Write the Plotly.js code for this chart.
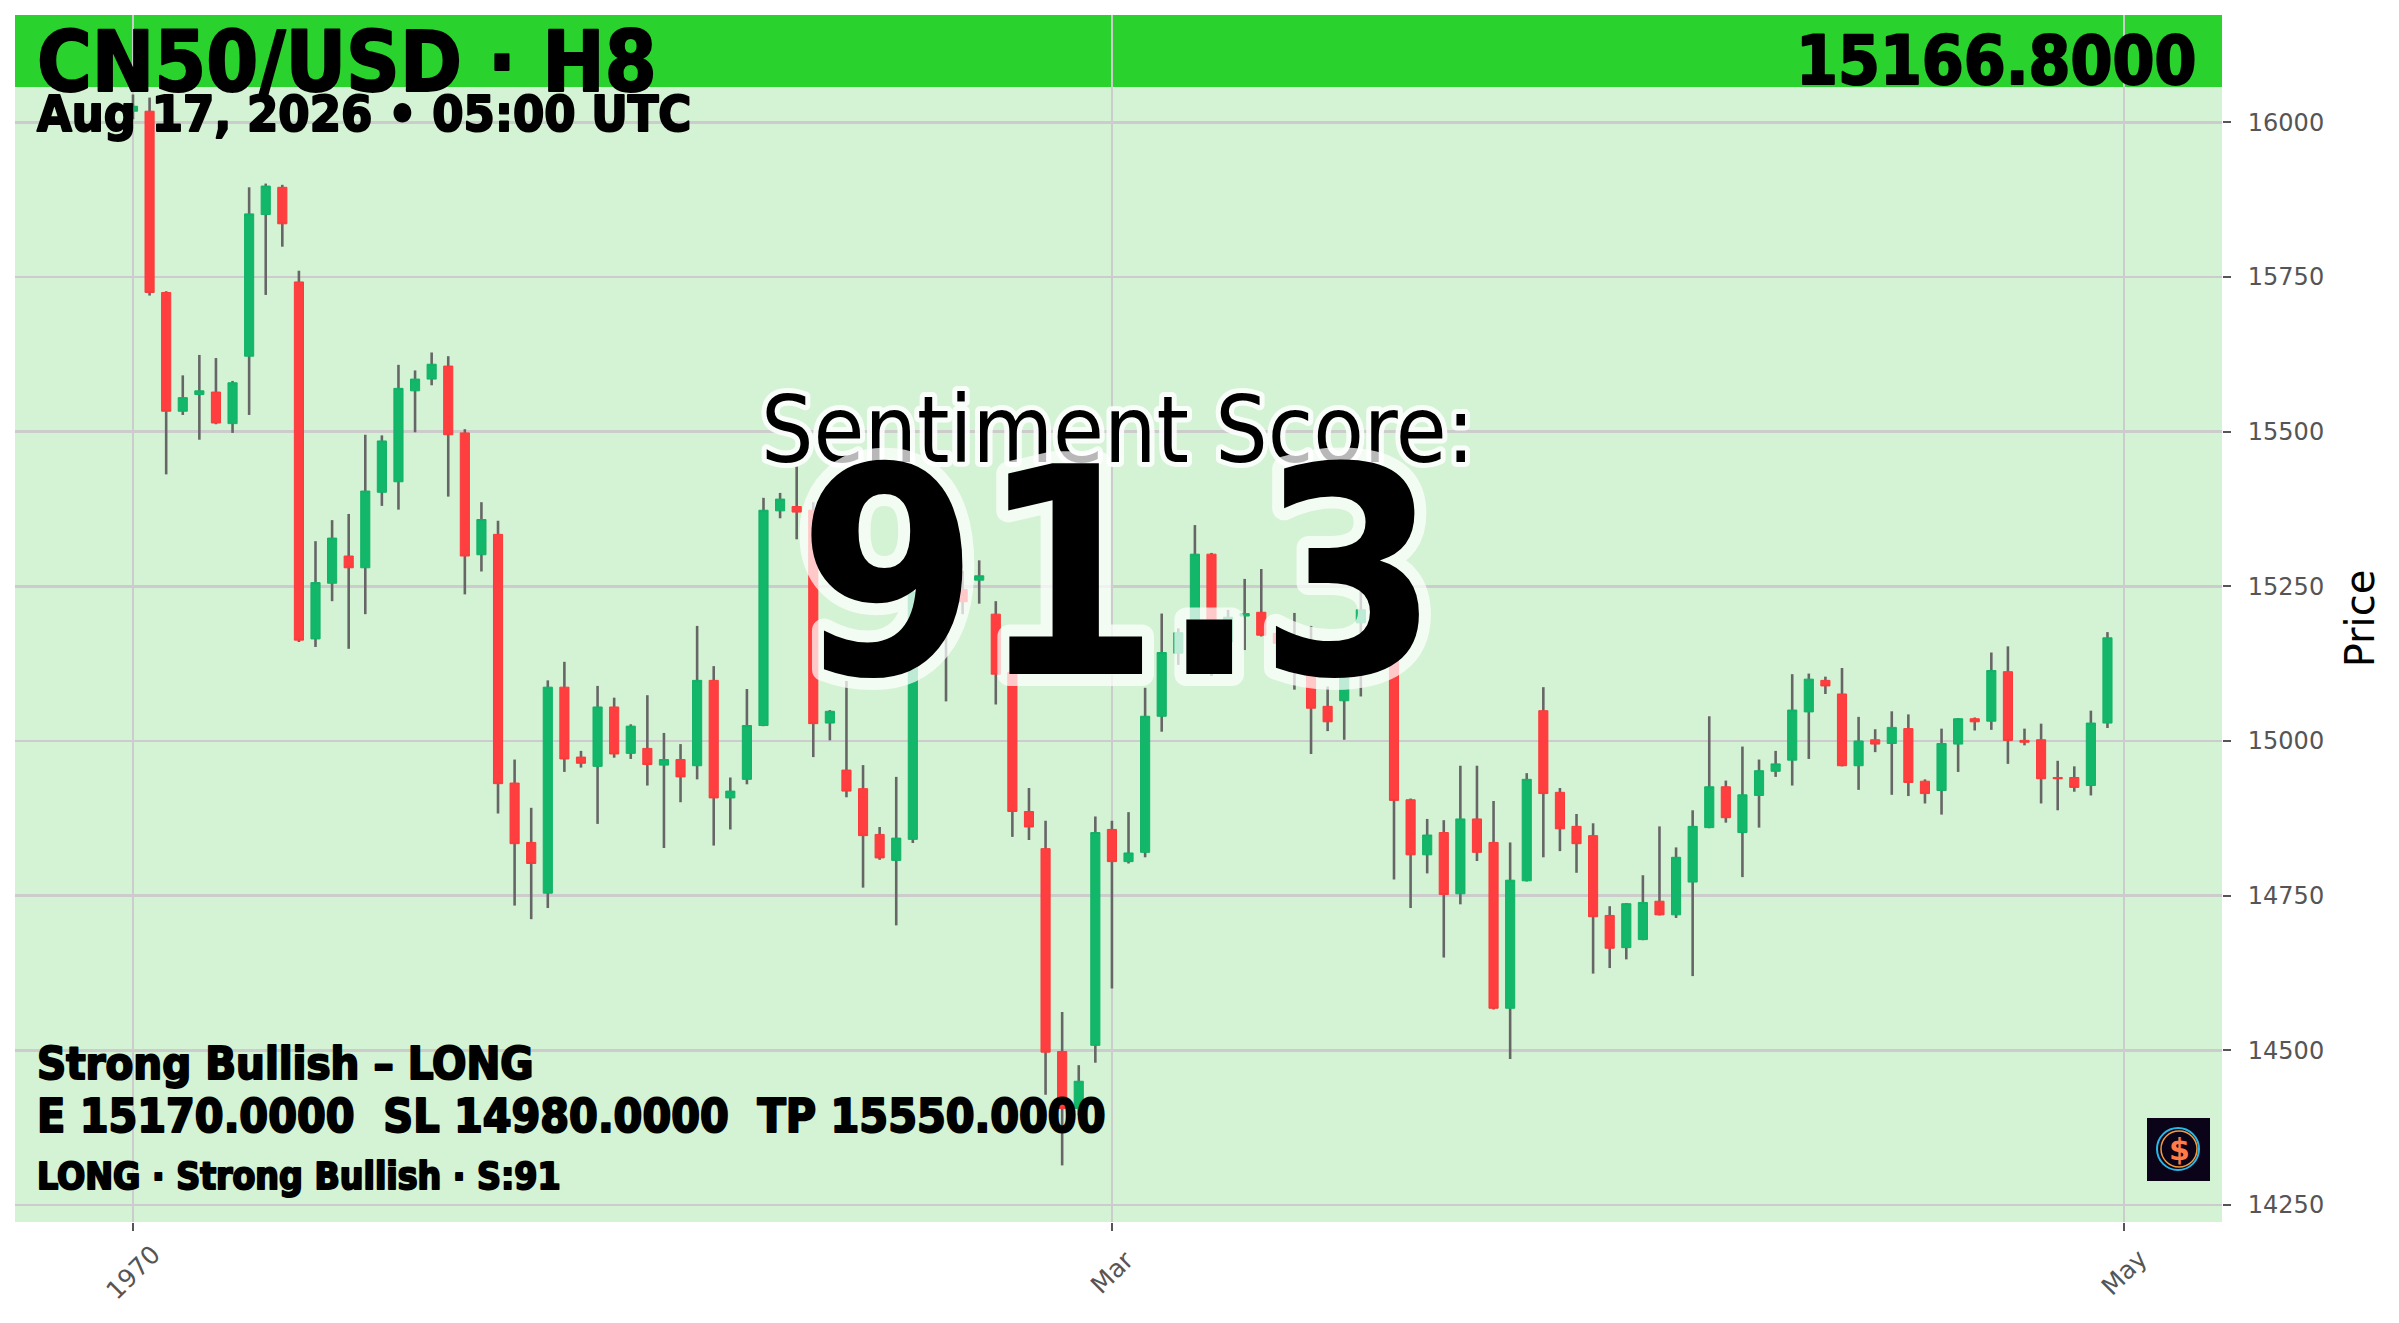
<!DOCTYPE html>
<html>
<head>
<meta charset="utf-8">
<script src="https://cdn.plot.ly/plotly-3.0.1.min.js"></script>
<style>
  html, body { margin:0; padding:0; background:#ffffff; }
  #chart { width:2399px; height:1323px; }
  g.annotation.heavy text.annotation-text { stroke:#000; stroke-width:2px; stroke-linejoin:round; paint-order:stroke; }
  g.annotation.halo-big text.annotation-text { stroke:rgba(255,255,255,0.72); stroke-width:24px; stroke-linejoin:round; paint-order:stroke; }
  g.annotation.halo-small text.annotation-text { stroke:rgba(255,255,255,0.85); stroke-width:10px; stroke-linejoin:round; paint-order:stroke; }
</style>
</head>
<body>
<div id="chart"></div>
<script>
// ---------------- DATA ----------------
const startDate = '1970-01-01';
const candleCount = 120;

const openP = [
16018,16018,15725,15533,15560,15564,15513,15622,15851,15895,
15742,15165,15255,15299,15280,15402,15419,15566,15585,15606,
15498,15301,15334,14932,14836,14754,15087,14974,14959,15055,
14980,14988,14961,14970,14960,15098,14908,14938,15025,15372,
15379,15373,15029,14953,14923,14849,14807,14841,15240,15190,
15245,15260,15205,15111,14886,14826,14498,14406,14508,14857,
14805,14820,15040,15142,15190,15302,15160,15202,15208,15174,
15130,15140,15056,15065,15191,15205,15210,14905,14816,14852,
14753,14874,14836,14568,14774,15049,14917,14862,14847,14718,
14666,14679,14741,14719,14772,14860,14926,14852,14912,14951,
14969,15047,15098,15076,14960,15002,14996,15020,14935,14920,
14995,15036,15032,15112,15001,15002,14941,14941,14928,15029
];
const highP = [
16045,16040,15727,15591,15624,15619,15582,15895,15901,15899,
15760,15323,15357,15367,15495,15494,15608,15599,15628,15622,
15504,15386,15356,14970,14892,15098,15128,14984,15089,15070,
15027,15074,15013,14995,15186,15121,14941,15084,15393,15401,
15444,15386,15050,15097,14961,14861,14942,15270,15275,15260,
15275,15292,15226,15125,14924,14871,14562,14476,14878,14871,
14885,15086,15206,15182,15349,15304,15212,15262,15278,15180,
15207,15186,15088,15150,15245,15260,15230,14907,14874,14872,
14960,14960,14903,14836,14948,15087,14924,14882,14867,14733,
14738,14783,14862,14828,14888,15040,14936,14991,14970,14984,
15108,15109,15104,15118,15039,15019,15048,15043,14938,15020,
15037,15038,15143,15153,15020,15028,14968,14959,15049,15176
];
const lowP = [
16005,15720,15431,15527,15487,15512,15498,15527,15721,15799,
15160,15152,15226,15149,15205,15380,15374,15499,15575,15395,
15237,15274,14883,14734,14712,14730,14950,14957,14866,14973,
14971,14928,14827,14901,14938,14831,14857,14930,15024,15360,
15326,14974,15001,14909,14763,14808,14702,14835,15150,15064,
15205,15222,15059,14845,14840,14428,14314,14395,14480,14600,
14802,14812,15015,15123,15123,15105,15123,15147,15169,15127,
15083,14979,15016,15002,15072,15170,14776,14730,14786,14650,
14736,14806,14566,14486,14773,14812,14822,14787,14624,14633,
14647,14678,14718,14714,14620,14859,14868,14780,14860,14942,
14928,14971,15076,14959,14921,14982,14913,14911,14899,14881,
14950,15017,15018,14963,14993,14899,14888,14918,14912,15021
];
const closeP = [
16026,15725,15533,15555,15566,15514,15579,15852,15897,15836,
15163,15256,15328,15280,15404,15485,15570,15585,15609,15495,
15299,15358,14931,14834,14802,15087,14971,14964,15055,14979,
15024,14962,14970,14942,15098,14908,14919,15025,15373,15391,
15370,15028,15048,14919,14847,14811,14843,15240,15200,15235,
15225,15267,15108,14886,14861,14497,14406,14450,14852,14805,
14819,15040,15143,15175,15302,15165,15200,15206,15171,15158,
15170,15053,15031,15135,15212,15225,14904,14816,14848,14752,
14874,14820,14568,14775,14938,14915,14858,14834,14716,14665,
14737,14739,14719,14812,14862,14926,14876,14913,14952,14963,
15050,15100,15089,14960,15000,14995,15022,14933,14915,14996,
15036,15031,15114,15001,14998,14939,14939,14925,15029,15166.8
];

const xTickVals = ['1970-01-01', '1970-03-01', '1970-05-01'];
const xTickText = ['1970', 'Mar', 'May'];
const yTickVals = [14250, 14500, 14750, 15000, 15250, 15500, 15750, 16000];

const symbolText = 'CN50/USD · H8';
const dateText = 'Aug 17, 2026 • 05:00 UTC';
const lastPriceText = '15166.8000';
const scoreLabel = 'Sentiment Score:';
const scoreValue = '91.3';
const signalText = 'Strong Bullish – LONG';
const levelsText = 'E 15170.0000\u00a0\u00a0SL 14980.0000\u00a0\u00a0TP 15550.0000';
const footerText = 'LONG · Strong Bullish · S:91';

// ---------------- DERIVED ----------------
const dates = [];
{
  const base = new Date(startDate + 'T00:00:00Z').getTime();
  for (let i = 0; i < candleCount; i++) {
    dates.push(new Date(base + i * 86400000).toISOString().slice(0, 10));
  }
}
const bodyHi = openP.map((o, i) => Math.max(o, closeP[i]));
const bodyLo = openP.map((o, i) => Math.min(o, closeP[i]));
const wickLen = highP.map((h, i) => h - lowP[i]);

// ---------------- LAYOUT HELPERS ----------------
const FIG_W = 2399, FIG_H = 1323;
const M = { l: 15, r: 177, t: 15, b: 101 };
const PW = FIG_W - M.l - M.r, PH = FIG_H - M.t - M.b;
const px2x = xf => (xf - M.l) / PW;
const px2y = yf => (FIG_H - M.b - yf) / PH;

const condensed = '"DejaVu Sans Condensed", "DejaVu Sans", sans-serif';
const plain = '"DejaVu Sans", sans-serif';

const traces = [
  {
    type: 'bar',
    x: dates,
    y: wickLen,
    base: lowP,
    width: 13.5e6,
    marker: { color: '#666666', line: { width: 0 } },
    hoverinfo: 'skip',
    showlegend: false
  },
  {
    type: 'candlestick',
    x: dates,
    open: openP,
    high: bodyHi,
    low: bodyLo,
    close: closeP,
    increasing: { line: { color: '#10b266', width: 1 }, fillcolor: '#12b76a' },
    decreasing: { line: { color: '#fb3a3a', width: 1 }, fillcolor: '#ff3f3f' },
    whiskerwidth: 0,
    showlegend: false
  }
];

const tickAnnotations = xTickVals.map((v, i) => ({
  text: xTickText[i], xref: 'x', yref: 'paper', x: v, y: px2y(1272),
  xanchor: 'center', yanchor: 'middle', textangle: -45, showarrow: false,
  font: { family: plain, size: 25, color: '#555555' }
}));

const layout = {
  width: FIG_W,
  height: FIG_H,
  margin: M,
  paper_bgcolor: '#ffffff',
  plot_bgcolor: '#d4f2d4',
  showlegend: false,
  boxgap: 0.45,
  boxgroupgap: 0,
  xaxis: {
    type: 'date',
    range: ['1969-12-24 21:20', '1970-05-06 21:40'],
    tickvals: xTickVals,
    ticktext: xTickText,
    showticklabels: false,
    ticks: 'outside',
    ticklen: 8,
    tickwidth: 2,
    tickcolor: '#555555',
    showgrid: true,
    gridcolor: '#cccccc',
    gridwidth: 2.5,
    zeroline: false,
    showline: false,
    rangeslider: { visible: false },
    fixedrange: true
  },
  yaxis: {
    side: 'right',
    range: [14222.5, 16173.5],
    tickvals: yTickVals,
    tickformat: 'd',
    ticks: 'outside',
    ticklen: 8,
    tickwidth: 2,
    tickcolor: '#555555',
    ticklabelstandoff: 12,
    tickfont: { family: plain, size: 24, color: '#555555' },
    showgrid: true,
    gridcolor: '#cccccc',
    gridwidth: 2.5,
    zeroline: false,
    showline: false,
    fixedrange: true,
    title: { text: 'Price', font: { family: plain, size: 40, color: '#000000' }, standoff: 22 }
  },
  shapes: [
    { type: 'rect', xref: 'paper', yref: 'paper', x0: 0, x1: 1, y0: px2y(87), y1: 1,
      fillcolor: '#29d22d', line: { width: 0 }, layer: 'below' },
    { type: 'rect', xref: 'paper', yref: 'paper', x0: px2x(2147), x1: px2x(2210), y0: px2y(1181), y1: px2y(1118),
      fillcolor: '#0b0418', line: { width: 0 }, layer: 'above' },
    { type: 'circle', xref: 'paper', yref: 'paper', x0: px2x(2157), x1: px2x(2199), y0: px2y(1170), y1: px2y(1128),
      line: { color: '#27b8e6', width: 2 }, layer: 'above' },
    { type: 'circle', xref: 'paper', yref: 'paper', x0: px2x(2161), x1: px2x(2197), y0: px2y(1167), y1: px2y(1131),
      line: { color: '#f39a3c', width: 1.5 }, layer: 'above' }
  ],
  annotations: [
    { text: symbolText, xref: 'paper', yref: 'paper', x: px2x(35), y: px2y(63), xanchor: 'left', yanchor: 'middle',
      showarrow: false, font: { family: condensed, size: 83, weight: 700, color: '#000000' }, name: 'heavy' },
    { text: dateText, xref: 'paper', yref: 'paper', x: px2x(35), y: px2y(114), xanchor: 'left', yanchor: 'middle',
      showarrow: false, font: { family: condensed, size: 50, weight: 700, color: '#000000' }, name: 'heavy' },
    { text: lastPriceText, xref: 'paper', yref: 'paper', x: px2x(2198), y: px2y(61), xanchor: 'right', yanchor: 'middle',
      showarrow: false, font: { family: condensed, size: 67, weight: 700, color: '#000000' }, name: 'heavy' },
    { text: scoreLabel, xref: 'paper', yref: 'paper', x: px2x(1118), y: px2y(430), xanchor: 'center', yanchor: 'middle',
      showarrow: false, font: { family: condensed, size: 92, color: '#000000' }, name: 'halo-small' },
    { text: scoreValue, xref: 'paper', yref: 'paper', x: px2x(1119), y: px2y(574), xanchor: 'center', yanchor: 'middle',
      showarrow: false, font: { family: condensed, size: 289, weight: 700, color: '#000000' }, name: 'halo-big' },
    { text: signalText, xref: 'paper', yref: 'paper', x: px2x(35), y: px2y(1063), xanchor: 'left', yanchor: 'middle',
      showarrow: false, font: { family: condensed, size: 45, weight: 700, color: '#000000' }, name: 'heavy' },
    { text: levelsText, xref: 'paper', yref: 'paper', x: px2x(35), y: px2y(1116), xanchor: 'left', yanchor: 'middle',
      showarrow: false, font: { family: condensed, size: 46, weight: 700, color: '#000000' }, name: 'heavy' },
    { text: footerText, xref: 'paper', yref: 'paper', x: px2x(35), y: px2y(1176), xanchor: 'left', yanchor: 'middle',
      showarrow: false, font: { family: condensed, size: 37, weight: 700, color: '#000000' }, name: 'heavy' },
    { text: '$', xref: 'paper', yref: 'paper', x: px2x(2179), y: px2y(1149), xanchor: 'center', yanchor: 'middle',
      showarrow: false, font: { family: plain, size: 30, weight: 700, color: '#ff7b47' }, name: 'logo' }
  ].concat(tickAnnotations)
};

Plotly.newPlot('chart', traces, layout, { displayModeBar: false, staticPlot: true }).then(gd => {
  const anns = layout.annotations;
  document.querySelectorAll('g.annotation').forEach(g => {
    const idx = +g.getAttribute('data-index');
    if (anns[idx] && anns[idx].name) g.classList.add(anns[idx].name);
  });
});
</script>
</body>
</html>
